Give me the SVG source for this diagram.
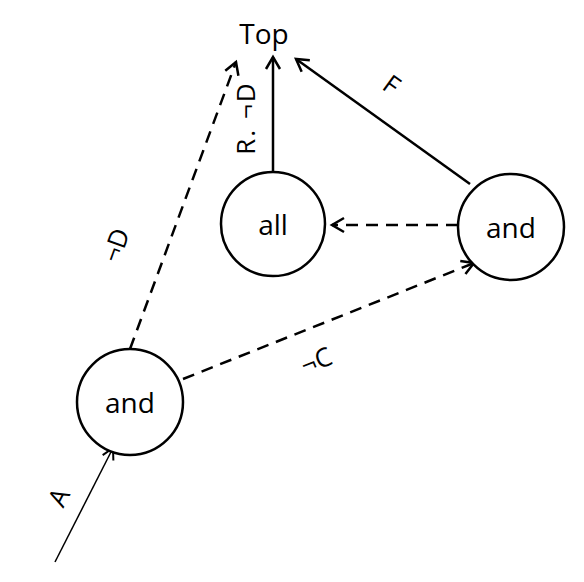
<svg xmlns="http://www.w3.org/2000/svg" width="584" height="582" viewBox="0 0 584 582">
<style>
text{font-family:"Open Sans","Liberation Sans",Arial,sans-serif;font-size:28px;fill:#000;text-anchor:middle;dominant-baseline:central}
.node circle{fill:#fff;stroke:#000;stroke-width:2.5}
.solid{stroke:#000;stroke-width:2.5;fill:none}
.thin{stroke:#000;stroke-width:1.5;fill:none}
.dash{stroke:#000;stroke-width:2.5;fill:none;stroke-dasharray:12 8}
.lbl{font-size:26px}
</style>
<defs>
<marker id="arr" markerUnits="userSpaceOnUse" orient="auto" markerWidth="30" markerHeight="30" refX="0" refY="0" viewBox="-15 -15 30 30" overflow="visible">
<path d="M -12 -7 L 0 0 L -12 7" fill="none" stroke="#000" stroke-width="2.5"/>
</marker>
<marker id="arrT" markerUnits="userSpaceOnUse" orient="auto" markerWidth="30" markerHeight="30" refX="0" refY="0" viewBox="-15 -15 30 30" overflow="visible">
<path d="M -11 -6 L 0 0 L -11 6" fill="none" stroke="#000" stroke-width="2"/>
</marker>
</defs>
<g id="connectors">
<line class="solid" x1="273" y1="171" x2="273" y2="57" marker-end="url(#arr)"/>
<line class="solid" x1="470" y1="184" x2="296" y2="59" marker-end="url(#arr)"/>
<line class="dash" x1="458" y1="225" x2="332" y2="225" marker-end="url(#arr)"/>
<line class="dash" x1="183" y1="379" x2="474" y2="263" marker-end="url(#arr)"/>
<line class="dash" x1="130" y1="349" x2="236" y2="62" marker-end="url(#arr)"/>
<line class="thin" x1="55" y1="562" x2="113" y2="448" marker-end="url(#arrT)"/>
<text class="lbl" transform="translate(245,118) rotate(-90)" letter-spacing="2">R. ¬D</text>
<text class="lbl" transform="translate(115,245) rotate(-70)">¬D</text>
<text class="lbl" transform="translate(392,84) rotate(36)">F</text>
<text class="lbl" transform="translate(316,360) rotate(-22)">¬C</text>
<text class="lbl" transform="translate(58,497) rotate(-63)">A</text>
</g>
<g id="top"><text x="264" y="33">Top</text></g>
<g id="all" class="node"><circle cx="273" cy="224" r="52"/><text x="273" y="224">all</text></g>
<g id="and_right" class="node"><circle cx="511" cy="227" r="53"/><text x="511" y="227">and</text></g>
<g id="and_left" class="node"><circle cx="130" cy="402" r="53"/><text x="130" y="402">and</text></g>
</svg>
